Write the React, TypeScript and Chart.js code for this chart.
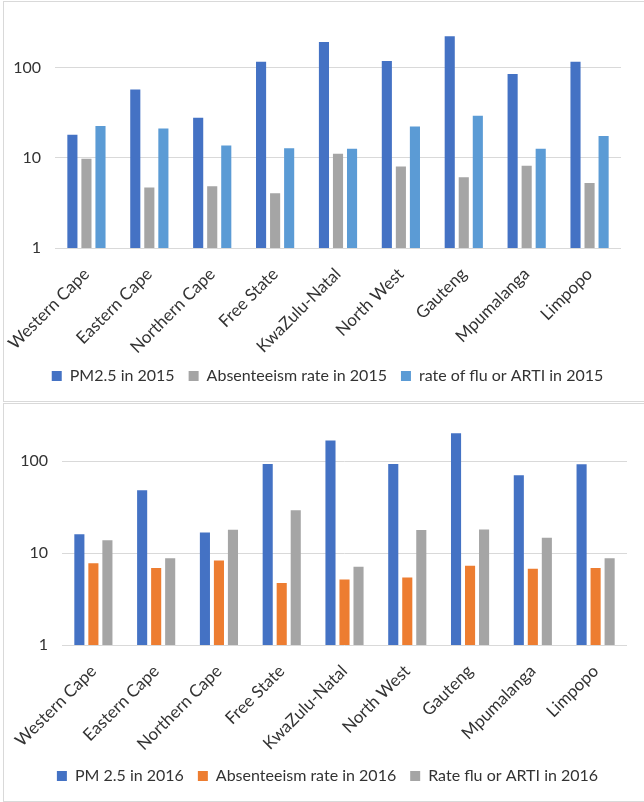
import React, { useEffect, useRef } from 'react';
import { Chart, registerables } from 'chart.js';
Chart.register(...registerables);

const provinces = ['Western Cape', 'Eastern Cape', 'Northern Cape', 'Free State', 'KwaZulu-Natal', 'North West', 'Gauteng', 'Mpumalanga', 'Limpopo'];

const pm2015 = [18.0, 57.4, 27.8, 116.6, 193, 118.6, 223, 85, 116.6];
const absent2015 = [9.8, 4.7, 4.85, 4.05, 11.1, 8.0, 6.1, 8.15, 5.27];
const flu2015 = [22.5, 21.2, 13.7, 12.8, 12.6, 22.3, 29.3, 12.6, 17.5];

const pm2016 = [16.0, 48.2, 16.8, 93.2, 168, 93.2, 201, 70.2, 92.5];
const absent2016 = [7.76, 6.9, 8.3, 4.74, 5.15, 5.42, 7.3, 6.75, 6.9];
const flu2016 = [13.8, 8.8, 17.9, 29.2, 7.1, 17.8, 18.1, 14.7, 8.8];

const yTicks = [1, 10, 100];

const FONT = 'Lato, "Open Sans", sans-serif';
const TEXT = '#333333';
const GRID = '#d9d9d9';

type DS = { label: string; data: number[]; color: string };

function legendShift(dx: number, dy: number) {
  return {
    id: 'legendShift',
    afterLayout(chart: any) {
      const l = chart.legend;
      if (!l) return;
      l.left += dx;
      l.right += dx;
      l.top += dy;
      l.bottom += dy;
    },
  };
}

function makeConfig(sets: DS[], yMax: number, yWidth: number, rightPad: number, xHeight: number, dx: number, dy: number): any {
  return {
    type: 'bar',
    data: {
      labels: provinces,
      datasets: sets.map((s) => ({
        label: s.label,
        data: s.data,
        backgroundColor: s.color,
        borderWidth: 0,
        categoryPercentage: 0.67,
        barPercentage: 0.72,
      })),
    },
    plugins: [legendShift(dx, dy)],
    options: {
      animation: false,
      responsive: false,
      maintainAspectRatio: false,
      layout: { padding: { top: 10, right: rightPad, bottom: 0, left: 0 } },
      plugins: {
        tooltip: { enabled: false },
        legend: {
          position: 'bottom',
          labels: {
            boxWidth: 10,
            boxHeight: 10,
            padding: 14,
            color: TEXT,
            font: { family: FONT, size: 16 },
          },
        },
      },
      scales: {
        x: {
          grid: { display: false, drawTicks: false },
          border: { display: false },
          ticks: {
            minRotation: 45,
            maxRotation: 45,
            autoSkip: false,
            padding: 16,
            color: TEXT,
            font: { family: FONT, size: 17 },
          },
          afterFit: (scale: any) => {
            scale.height = xHeight;
            scale.paddingLeft = 0;
            scale.paddingRight = 0;
          },
        },
        y: {
          type: 'logarithmic',
          min: 1,
          max: yMax,
          border: { display: false },
          grid: { color: GRID, lineWidth: 1, drawTicks: false },
          ticks: {
            padding: 14,
            color: TEXT,
            font: { family: FONT, size: 16 },
            callback: (v: any) => String(v),
          },
          afterBuildTicks: (scale: any) => {
            scale.ticks = yTicks.map((v) => ({ value: v }));
          },
          afterFit: (scale: any) => {
            scale.width = yWidth;
          },
        },
      },
    },
  };
}

export default function App() {
  const c1 = useRef<HTMLCanvasElement>(null);
  const c2 = useRef<HTMLCanvasElement>(null);

  useEffect(() => {
    const ch1 = new Chart(
      c1.current!,
      makeConfig(
        [
          { label: 'PM2.5 in 2015', data: pm2015, color: '#4472C4' },
          { label: 'Absenteeism rate in 2015', data: absent2015, color: '#A5A5A5' },
          { label: 'rate of flu or ARTI in 2015', data: flu2015, color: '#5B9BD5' },
        ],
        293,
        55,
        23,
        114,
        17,
        -8
      )
    );
    const ch2 = new Chart(
      c2.current!,
      makeConfig(
        [
          { label: 'PM 2.5 in 2016', data: pm2016, color: '#4472C4' },
          { label: 'Absenteeism rate in 2016', data: absent2016, color: '#ED7D31' },
          { label: 'Rate flu or ARTI in 2016', data: flu2016, color: '#A5A5A5' },
        ],
        232,
        62,
        17,
        115,
        14,
        -6
      )
    );
    return () => {
      ch1.destroy();
      ch2.destroy();
    };
  }, []);

  return (
    <div style={{ position: 'fixed', left: 0, top: 0, width: 644, height: 802, overflow: 'hidden', background: '#fff' }}>
      <div style={{ position: 'absolute', left: 3, top: 1, width: 660, height: 399, border: '1px solid #d9d9d9' }} />
      <div style={{ position: 'absolute', left: 3, top: 403, width: 660, height: 397, border: '1px solid #d9d9d9' }} />
      <canvas ref={c1} width={644} height={400} style={{ position: 'absolute', left: 0, top: 2, width: 644, height: 400 }} />
      <canvas ref={c2} width={644} height={396} style={{ position: 'absolute', left: 0, top: 404, width: 644, height: 396 }} />
    </div>
  );
}
